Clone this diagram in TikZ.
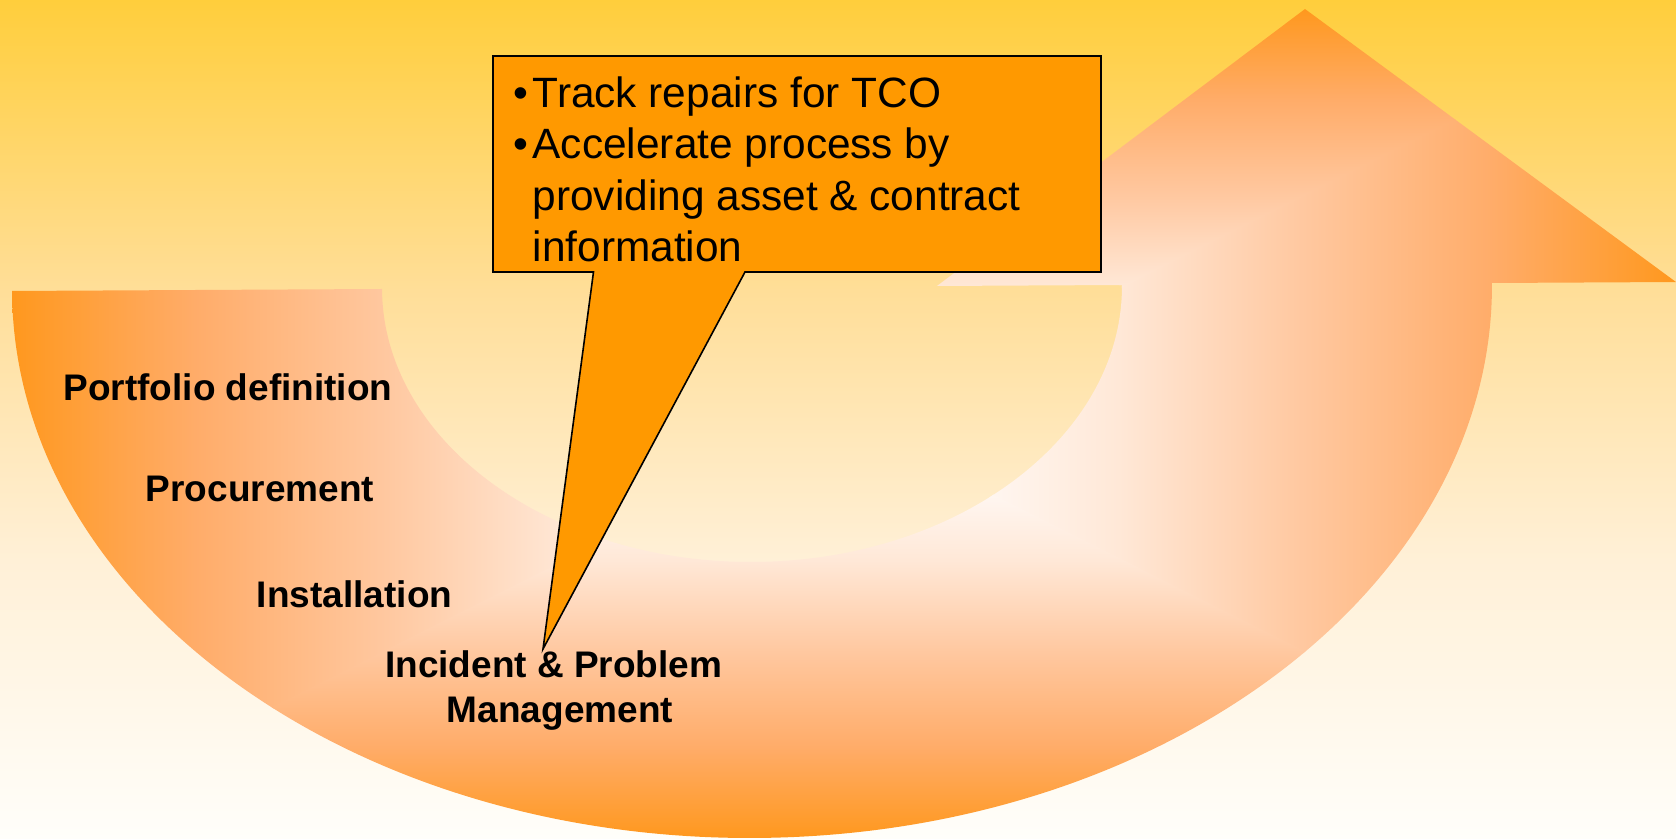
\documentclass[tikz,border=0pt]{standalone}
\usepackage{fontspec}
\setmainfont{Liberation Sans}
\definecolor{ao0}{RGB}{255,152,30}
\definecolor{ao1}{RGB}{255,172,105}
\definecolor{ao2}{RGB}{255,200,160}
\definecolor{ao3}{RGB}{255,232,215}
\definecolor{ao4}{RGB}{255,248,244}
\definecolor{ao5}{RGB}{255,252,250}
\definecolor{bg0}{RGB}{255,206,60}
\definecolor{bg1}{RGB}{255,222,152}
\definecolor{bg2}{RGB}{255,240,215}
\definecolor{bg3}{RGB}{255,254,250}
\definecolor{calloutfill}{RGB}{255,153,0}
\pgfdeclarehorizontalshading{armsh}{100bp}{color(0bp)=(ao0); color(25bp)=(ao0); color(36bp)=(ao1); color(47.5bp)=(ao2); color(58.5bp)=(ao3); color(67.5bp)=(ao4); color(75bp)=(ao5); color(100bp)=(ao5)}
\pgfdeclareverticalshading{bgsh}{100bp}{color(0bp)=(bg3); color(25bp)=(bg3); color(41.6bp)=(bg2); color(57.7bp)=(bg1); color(75bp)=(bg0); color(100bp)=(bg0)}
\tikzset{
  callout/.style={fill=calloutfill, draw=black, line width=1.6pt, line join=miter},
  boxtext/.style={anchor=base west, inner sep=0pt, font=\fontsize{42.4}{51.3}\selectfont},
  stagelabel/.style={anchor=base west, inner sep=0pt, font=\fontsize{37}{44}\selectfont\bfseries},
}
\begin{document}
\begin{tikzpicture}[x=1pt,y=1pt]
\useasboundingbox (0,0) rectangle (1676,838);
% background
\shade[shading=bgsh] (0,0) rectangle (1676,838);
% U-turn arrow with rectangular centre gradient
\begin{scope}
  \clip[rotate around={0.31:(752,551)}] (12,551)
     arc[start angle=180, end angle=360, x radius=740pt, y radius=551pt]
     -- (1676,551) -- (1306.5,826) -- (937,551) -- (1122,551)
     arc[start angle=0, end angle=-180, x radius=370pt, y radius=275pt]
     -- cycle;
  % left part
  \begin{scope}
    \clip (4,-4) -- (4,833) -- (848,414.5) -- cycle;
    \shade[shading=armsh, shading angle=0] (12,0) rectangle (844,829);
  \end{scope}
  % right part
  \begin{scope}
    \clip (1684,-4) -- (1684,833) -- (840,414.5) -- cycle;
    \shade[shading=armsh, shading angle=180] (844,0) rectangle (1676,829);
  \end{scope}
  % top part
  \begin{scope}
    \clip (4,833) -- (1684,833) -- (844,410.5) -- cycle;
    \shade[shading=armsh, shading angle=270] (12,414.5) rectangle (1676,829);
  \end{scope}
  % bottom part
  \begin{scope}
    \clip (4,-4) -- (1684,-4) -- (844,418.5) -- cycle;
    \shade[shading=armsh, shading angle=90] (12,0) rectangle (1676,414.5);
  \end{scope}
\end{scope}
% callout
\draw[callout] (493,782) -- (1101,782) -- (1101,566) -- (745,566) -- (543,189)
   -- (593.5,566) -- (493,566) -- cycle;
\node[boxtext] (t1) at (532.5,730) {\llap{•\kern4.5pt}Track repairs for TCO};
\node[boxtext] (t2) at (532.5,679) {\llap{•\kern4.5pt}Accelerate process by};
\node[boxtext] (t3) at (532.5,627) {providing asset \& contract};
\node[boxtext] (t4) at (532.5,576) {information};
% stage labels
\node[stagelabel] (l1) at (63.3,437) {Portfolio definition};
\node[stagelabel] (l2) at (145.7,336.3) {Procurement};
\node[stagelabel] (l3) at (256.7,230) {Installation};
\node[stagelabel] (l4) at (385,160.7) {Incident \& Problem};
\node[stagelabel] (l5) at (446.7,115.7) {Management};
\end{tikzpicture}
\end{document}
